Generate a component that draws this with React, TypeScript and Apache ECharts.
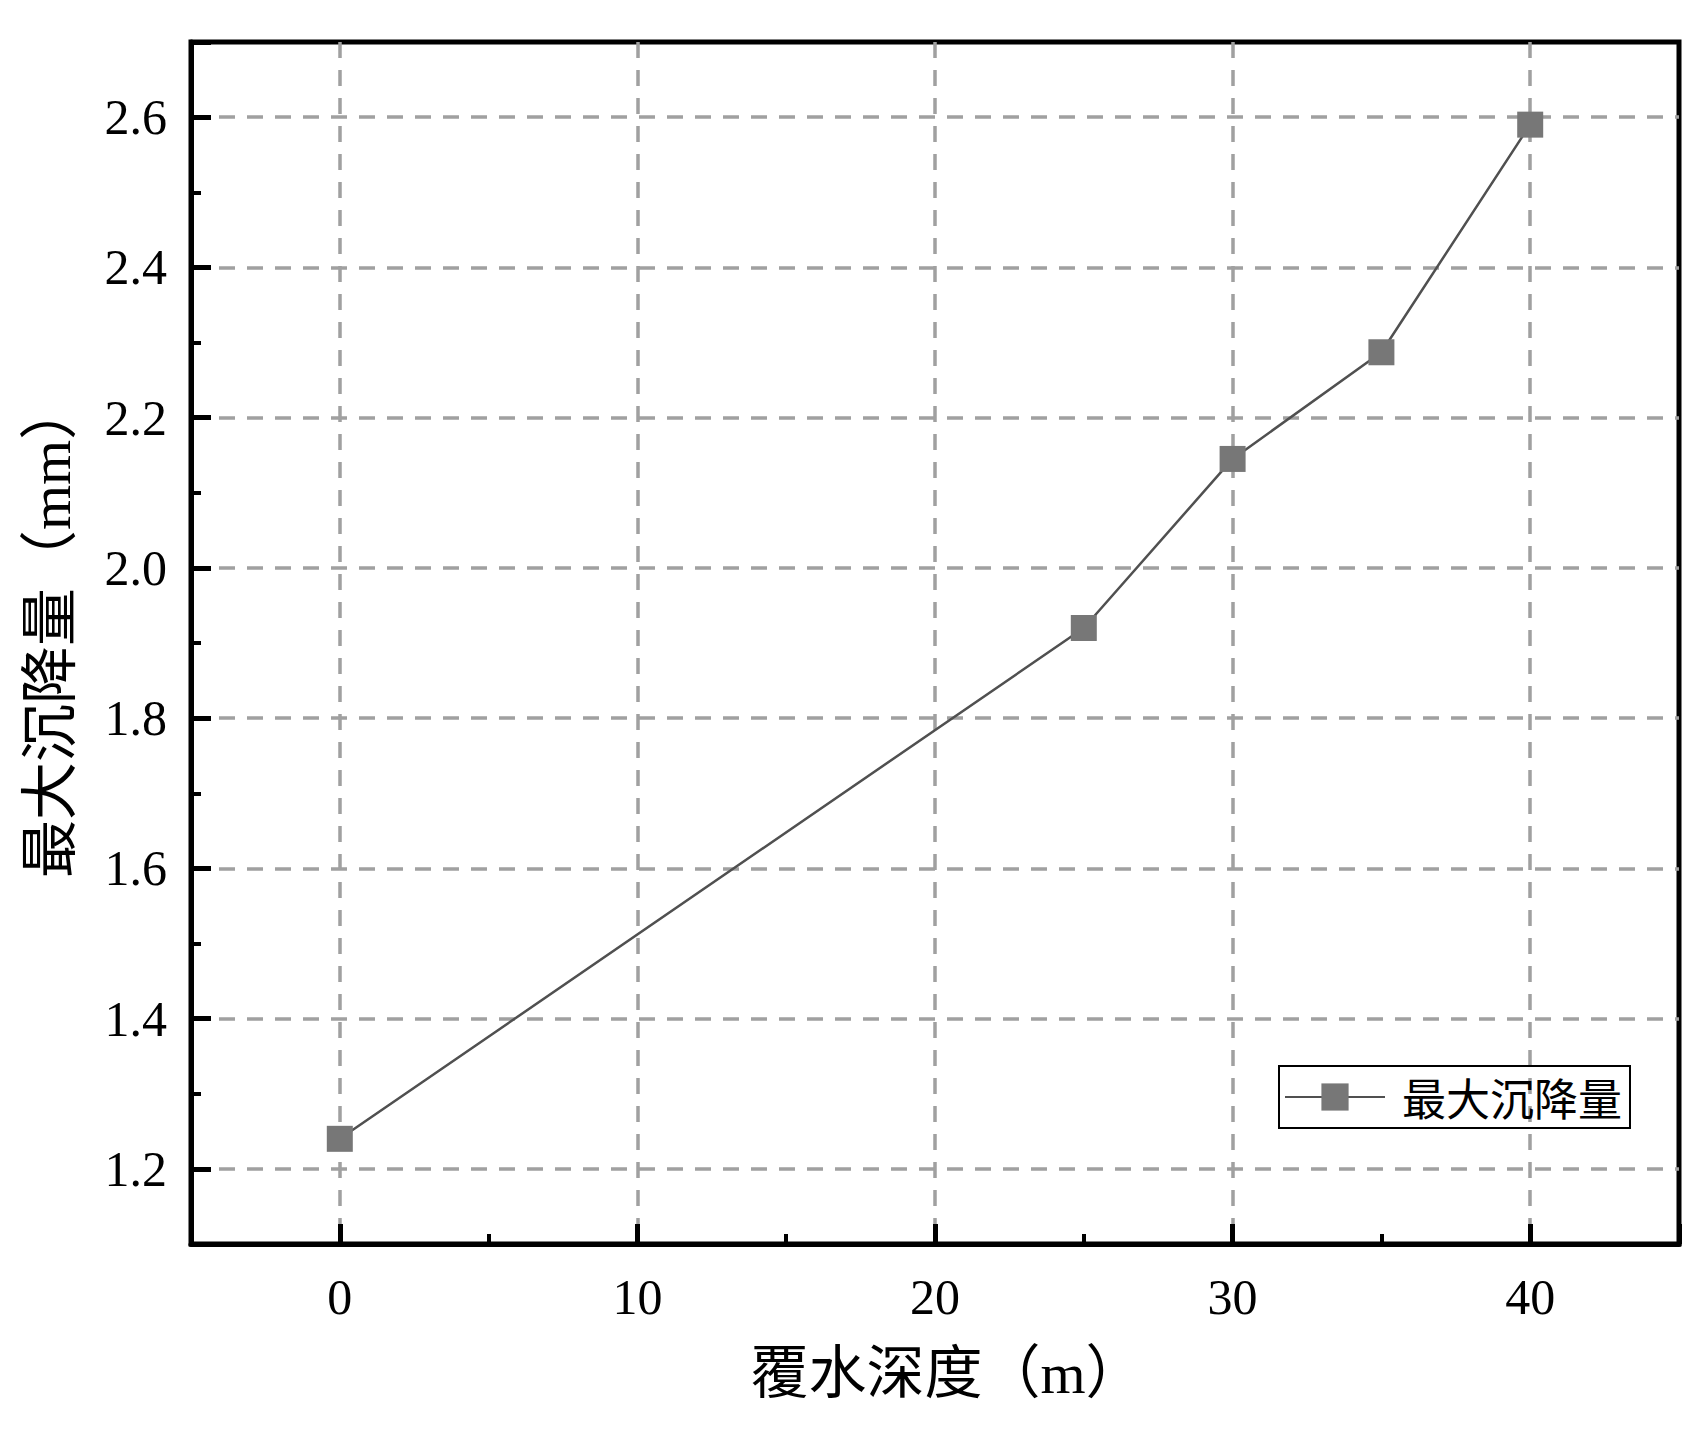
import React, { useEffect, useRef } from "react";
import * as echarts from "echarts";

const depths = [0, 25, 30, 35, 40];
const settlement = [1.24, 1.92, 2.145, 2.287, 2.59];
const seriesName = "最大沉降量";
const xTitle = "覆水深度（m）";
const yTitle = "最大沉降量（mm）";
const xRange = [-5, 45];
const yRange = [1.1, 2.7];

const NUM_FONT = "'Liberation Serif', 'Times New Roman', serif";
const CJK_FONT = "'Liberation Serif', 'Noto Sans CJK SC', serif";

export default function App() {
  const ref = useRef<HTMLDivElement>(null);
  useEffect(() => {
    if (!ref.current) return;
    const chart = echarts.init(ref.current, null, { renderer: "svg" });
    const near = (a: number, b: number) => Math.abs(a - b) < 1e-6;
    const gridLine = { show: true, showMinLine: false, showMaxLine: false, lineStyle: { type: [16, 12], color: "#a0a0a0", width: 3.5 } };
    const hiddenLine = { show: false, onZero: false };
    const majorTick = { show: true, inside: true, length: 20, lineStyle: { color: "#000", width: 5 } };
    const minorTick = { show: true, inside: true, length: 10, lineStyle: { color: "#000", width: 4 } };
    chart.setOption({
      animation: false,
      backgroundColor: "#ffffff",
      grid: { left: 191, right: 25, top: 42, bottom: 197, show: true, borderColor: "#000", borderWidth: 5, backgroundColor: "transparent" },
      legend: {
        left: 1279,
        top: 1066,
        padding: [9, 8, 9, 5],
        borderColor: "#000",
        borderWidth: 2,
        itemWidth: 100,
        itemHeight: 34,
        textStyle: { fontSize: 44, fontFamily: "'Noto Sans CJK SC'", color: "#000", padding: [0, 0, 0, 12] },
        data: [seriesName],
      },
      xAxis: [
        {
          type: "value",
          min: xRange[0],
          max: xRange[1],
          splitNumber: 5,
          position: "bottom",
          z: 0,
          axisLine: { show: true, onZero: false, lineStyle: { color: "#000", width: 5 } },
          axisTick: { show: false },
          axisLabel: {
            color: "#000",
            fontSize: 50,
            fontFamily: NUM_FONT,
            margin: 28,
            formatter: (v: number) => (near(v, xRange[0]) || near(v, xRange[1]) ? "" : String(v)),
          },
          splitLine: gridLine,
          name: xTitle,
          nameLocation: "middle",
          nameGap: 100,
          nameTextStyle: { color: "#000", fontSize: 58, fontFamily: CJK_FONT, padding: [0, 0, 0, 24] },
        },
        {
          type: "value",
          min: xRange[0],
          max: xRange[1],
          splitNumber: 5,
          position: "bottom",
          z: 5,
          axisLine: hiddenLine,
          axisTick: majorTick,
          axisLabel: { show: false },
          splitLine: { show: false },
        },
        {
          type: "value",
          min: xRange[0],
          max: xRange[1],
          interval: 10,
          position: "bottom",
          z: 5,
          axisLine: hiddenLine,
          axisTick: minorTick,
          axisLabel: { show: false },
          splitLine: { show: false },
        },
      ],
      yAxis: [
        {
          type: "value",
          min: yRange[0],
          max: yRange[1],
          splitNumber: 8,
          position: "left",
          z: 0,
          axisLine: { show: true, onZero: false, lineStyle: { color: "#000", width: 5 } },
          axisTick: { show: false },
          axisLabel: {
            color: "#000",
            fontSize: 50,
            fontFamily: NUM_FONT,
            margin: 24,
            formatter: (v: number) => (near(v, yRange[0]) || near(v, yRange[1]) ? "" : v.toFixed(1)),
          },
          splitLine: gridLine,
          name: yTitle,
          nameLocation: "middle",
          nameGap: 112,
          nameTextStyle: { color: "#000", fontSize: 58, fontFamily: CJK_FONT, padding: [0, 0, 0, 26] },
        },
        {
          type: "value",
          min: yRange[0],
          max: yRange[1],
          splitNumber: 8,
          position: "left",
          z: 5,
          axisLine: hiddenLine,
          axisTick: majorTick,
          axisLabel: { show: false },
          splitLine: { show: false },
        },
        {
          type: "value",
          min: yRange[0],
          max: yRange[1],
          interval: 0.2,
          position: "left",
          z: 5,
          axisLine: hiddenLine,
          axisTick: minorTick,
          axisLabel: { show: false },
          splitLine: { show: false },
        },
      ],
      series: [
        {
          name: seriesName,
          type: "line",
          xAxisIndex: 0,
          yAxisIndex: 0,
          data: depths.map((d, i) => [d, settlement[i]]),
          symbol: "rect",
          symbolSize: 26,
          itemStyle: { color: "#777777" },
          lineStyle: { color: "#505050", width: 2.5 },
          z: 3,
        },
      ],
    });
    return () => chart.dispose();
  }, []);
  return (
    <div style={{ position: "absolute", left: 0, top: 0, width: 1704, height: 1441, background: "#fff" }}>
      <div ref={ref} style={{ width: 1704, height: 1441 }} />
    </div>
  );
}
